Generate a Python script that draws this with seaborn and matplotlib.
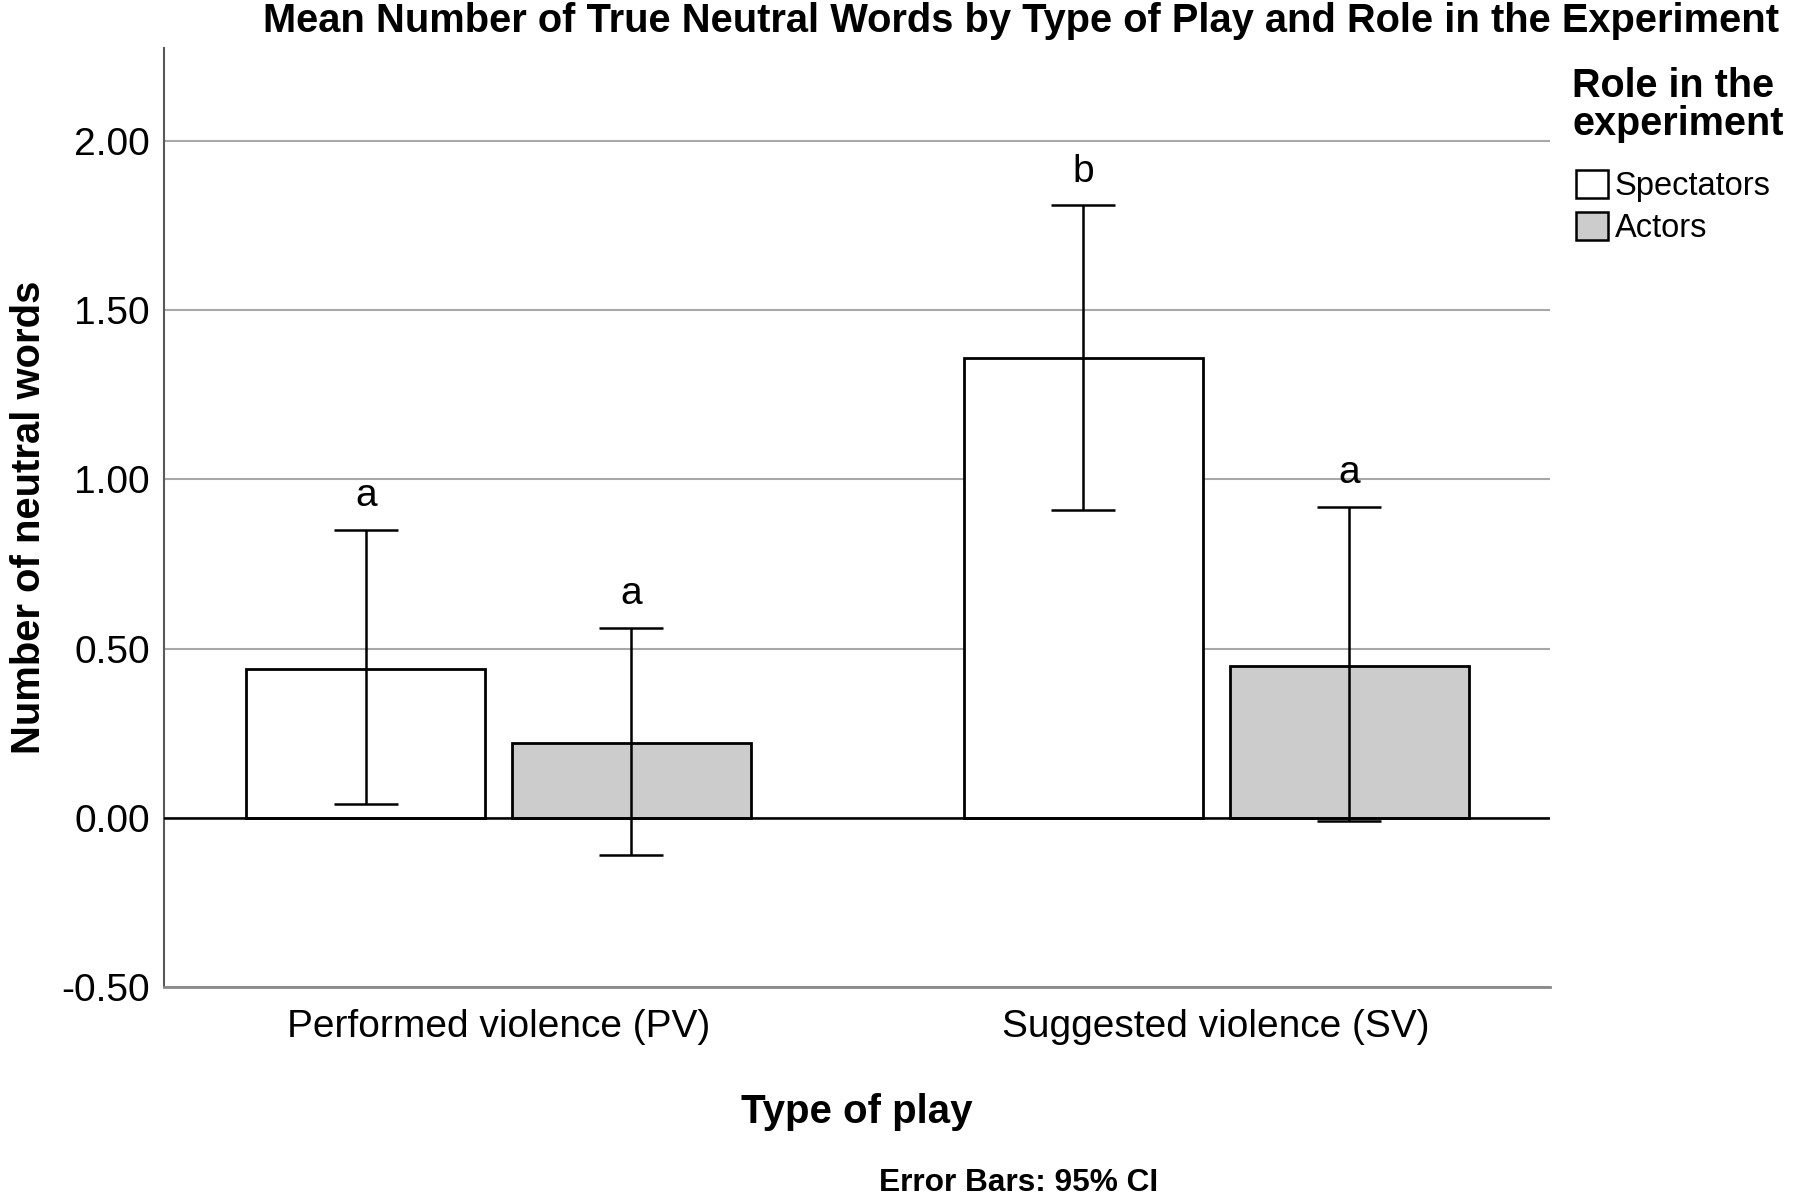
import matplotlib
matplotlib.use("Agg")
import matplotlib.pyplot as plt
from matplotlib.patches import Patch
from matplotlib.ticker import FormatStrFormatter
import pandas as pd
import seaborn as sns

# values
plays = ["Performed violence (PV)", "Suggested violence (SV)"]
roles = ["Spectators", "Actors"]
role_colors = ["white", "#cccccc"]

means_spect = [0.44, 1.36]
means_actor = [0.22, 0.45]
ci_low_spect = [0.04, 0.91]
ci_high_spect = [0.85, 1.81]
ci_low_actor = [-0.11, -0.01]
ci_high_actor = [0.56, 0.92]
letters_spect = ["a", "b"]
letters_actor = ["a", "a"]

yticks = [-0.5, 0.0, 0.5, 1.0, 1.5, 2.0]

sns.set_style("white")
plt.rcParams["font.family"] = ["Liberation Sans", "DejaVu Sans"]
plt.rcParams["axes.unicode_minus"] = False
for k in ["text.color", "axes.labelcolor", "xtick.color", "ytick.color"]:
    plt.rcParams[k] = "black"

df = pd.DataFrame({
    "play": plays * 2,
    "role": [roles[0]] * 2 + [roles[1]] * 2,
    "mean": means_spect + means_actor,
})

W, H = 1800, 1201
fig, ax = plt.subplots(figsize=(18, 12.01), dpi=100)
fig.subplots_adjust(left=164 / W, right=1550 / W, bottom=1 - 987 / H, top=1 - 48 / H)

sns.barplot(
    data=df, x="play", y="mean", hue="role", order=plays, hue_order=roles,
    palette=dict(zip(roles, role_colors)), edgecolor="black", linewidth=2,
    width=0.74, gap=0.1, errorbar=None, legend=False, ax=ax, zorder=3,
)

# error bars and significance letters
for cont, lows, highs, letters in zip(
    ax.containers,
    [ci_low_spect, ci_low_actor],
    [ci_high_spect, ci_high_actor],
    [letters_spect, letters_actor],
):
    for bar, lo, hi, let in zip(cont, lows, highs, letters):
        xc = bar.get_x() + bar.get_width() / 2
        m = bar.get_height()
        ax.errorbar(xc, m, yerr=[[m - lo], [hi - m]], fmt="none", ecolor="black",
                    elinewidth=1.8, capsize=23, capthick=1.8, zorder=5)
        ax.text(xc, hi + 0.1, let, ha="center", va="center", fontsize=28)

ax.axhline(0, color="black", lw=1.8, zorder=4)

ax.set_ylim(-0.5, 2.275)
ax.set_xlim(-0.466, 1.465)
ax.set_yticks(yticks)
ax.yaxis.set_major_formatter(FormatStrFormatter("%.2f"))
ax.yaxis.grid(True, color="#a8a8a8", lw=1.5)
ax.set_axisbelow(True)
ax.tick_params(length=0, labelsize=28)
ax.tick_params(axis="y", pad=10)
ax.tick_params(axis="x", pad=16)

for s in ["top", "right"]:
    ax.spines[s].set_visible(False)
ax.spines["left"].set_color("#5a5a5a")
ax.spines["left"].set_linewidth(1.5)
ax.spines["bottom"].set_color("#8a8a8a")
ax.spines["bottom"].set_linewidth(2)

ax.set_xlabel("Type of play", fontsize=29, fontweight="bold", va="center")
ax.xaxis.set_label_coords(0.5, (987 - 1112) / 939)
ax.set_ylabel("Number of neutral words", fontsize=28.8, fontweight="bold", va="center")
ax.yaxis.set_label_coords((29 - 164) / 1386, 0.5)

fig.text(1021 / W, 1 - 21 / H,
         "Mean Number of True Neutral Words by Type of Play and Role in the Experiment",
         ha="center", va="center", fontsize=28.7, fontweight="bold")
fig.text(1019 / W, 1 - 1183 / H, "Error Bars: 95% CI",
         ha="center", va="center", fontsize=22.8, fontweight="bold")

# legend title as its own text, entries below it
fig.text(1572 / W, 1 - 105 / H, "Role in the\nexperiment", ha="left", va="center",
         fontsize=28.5, fontweight="bold", linespacing=1.0)
handles = [Patch(facecolor=c, edgecolor="black", lw=1.8) for c in role_colors]
ax.legend(
    handles, roles, loc="center left",
    bbox_to_anchor=(1576 / W, 1 - 207 / H), bbox_transform=fig.transFigure,
    frameon=False, fontsize=23.5, handlelength=0.97, handleheight=0.95,
    handletextpad=0.22, labelspacing=0.29, borderpad=0, borderaxespad=0,
)

fig.savefig("out.png", dpi=100)
